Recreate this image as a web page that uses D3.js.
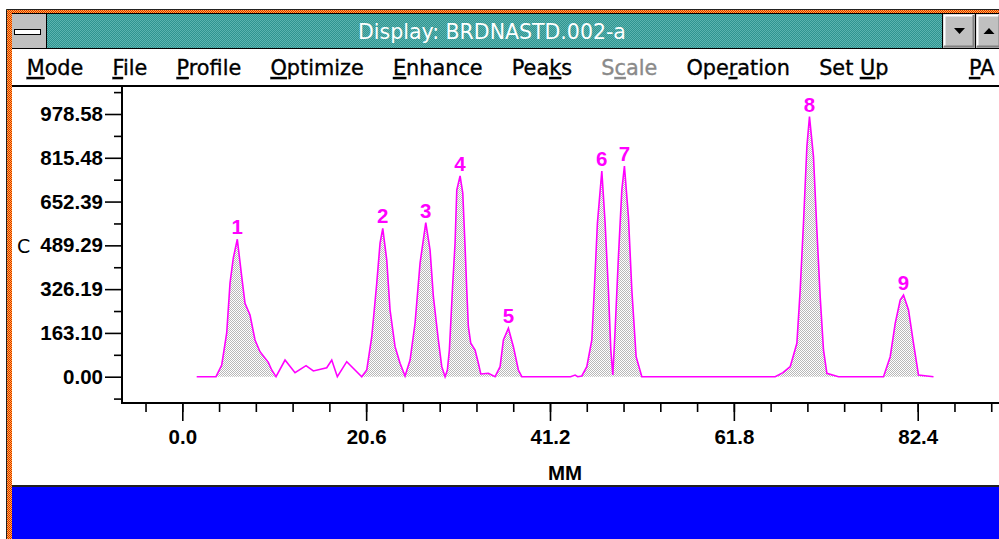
<!DOCTYPE html>
<html><head><meta charset="utf-8">
<script src="https://cdn.jsdelivr.net/npm/d3@7"></script>
<style>html,body{margin:0;padding:0;background:#fff;overflow:hidden}</style>
</head><body>
<svg id="c" width="999" height="539"></svg>
<script>
// ---------- data ----------
const titleText = "Display: BRDNASTD.002-a";
const menuItems = ["Mode","File","Profile","Optimize","Enhance","Peaks","Scale","Operation","Set Up","PA"];
const menuKeys = [0,0,0,0,0,3,1,3,4,0];
const menuEnabled = [1,1,1,1,1,1,0,1,1,1];
const yAxisTitle = "C";
const xAxisTitle = "MM";
const yTickValues = [0, 163.10, 326.19, 489.29, 652.39, 815.48, 978.58];
const yTickLabels = ["0.00","163.10","326.19","489.29","652.39","815.48","978.58"];
const xTickValues = [0, 20.6, 41.2, 61.8, 82.4];
const xTickLabels = ["0.0","20.6","41.2","61.8","82.4"];
const signalMM = [1.614,3.777,4.416,4.976,5.346,5.716,6.164,6.658,7.027,7.588,8.148,8.709,9.639,10.020,10.502,
  11.511,12.631,13.864,14.682,16.184,16.745,17.372,18.426,20.107,
  20.668,21.228,21.788,22.158,22.461,22.909,23.279,23.839,24.400,24.960,
  25.521,26.081,26.641,27.280,27.762,28.132,28.692,29.073,29.443,
  29.701,29.925,30.115,30.306,30.564,30.754,31.124,31.427,31.684,31.875,32.055,32.324,32.806,33.176,33.445,34.297,35.047,
  35.608,35.978,36.538,37.098,37.659,38.040,
  43.500,44.014,44.300,44.765,45.325,45.886,46.255,46.513,47.006,47.376,47.746,48.015,48.239,
  48.497,48.867,49.248,49.539,49.988,50.369,50.851,51.490,
  66.430,67.300,68.111,68.862,69.232,69.602,69.983,70.274,70.723,71.104,71.474,71.844,72.225,73.525,
  78.569,79.320,79.880,80.440,80.810,81.371,81.931,82.491,84.172];
const signalC = [0,0,43.6,162.8,349.1,442.2,511.9,372.5,273.4,229.9,136.7,93.1,53.6,25.0,0,
  62.2,14.9,41.0,21.2,33.5,62.2,0,55.9,0,
  25.0,149.0,348.0,498.1,552.8,434.8,248.5,111.8,49.9,2.6,
  62.2,200.1,423.6,573.7,472.0,298.0,136.7,37.3,0,
  25.0,99.5,223.5,349.1,498.1,695.5,747.7,684.4,484.3,323.0,186.3,124.4,99.5,49.9,10.1,12.7,0,
  37.3,136.7,180.3,111.8,25.0,0,
  0,6,0,2.6,37.3,136.7,386.3,572.6,766.3,572.6,323.0,99.5,6.3,
  174.0,447.0,695.5,784.9,596.1,323.0,74.5,0,
  0,15,37.3,124.4,323.0,572.6,856.8,968.6,819.6,546.5,298.0,99.5,12.7,0,
  0,74.5,198.9,285.7,304.4,248.5,124.4,6.3,0];
const peakLabels = ["1","2","3","4","5","6","7","8","9"];
const peakStart = [3.777,20.107,24.960,29.443,35.047,44.765,48.239,66.430,78.569];
const peakEnd   = [10.502,24.960,29.443,35.047,38.040,48.239,51.490,73.525,84.172];

// ---------- layout ----------
const W = 999, H = 539;
const svg = d3.select("#c");
const defs = svg.append("defs");
function dither(id, bg, fg) {
  const p = defs.append("pattern").attr("id", id).attr("width", 2).attr("height", 2)
    .attr("patternUnits", "userSpaceOnUse");
  p.append("rect").attr("width", 2).attr("height", 2).attr("fill", bg);
  p.append("rect").attr("x", 0).attr("y", 0).attr("width", 1).attr("height", 1).attr("fill", fg);
  p.append("rect").attr("x", 1).attr("y", 1).attr("width", 1).attr("height", 1).attr("fill", fg);
}
dither("frameD", "#ffc040", "#e02000");
dither("titleD", "#2f9490", "#5cb4b0");
dither("fillD", "#ffffff", "#b8b8b8");

svg.append("rect").attr("width", W).attr("height", H).attr("fill", "#fff");

// window frame
svg.append("rect").attr("x", 6).attr("y", 9).attr("width", W - 6).attr("height", H - 9).attr("fill", "url(#frameD)");
svg.append("path").attr("d", `M6.5,${H} V9.5 H${W}`).attr("fill", "none").attr("stroke", "#222").attr("stroke-width", 1);
// title bar
svg.append("rect").attr("x", 12).attr("y", 13).attr("width", W - 12).attr("height", 36).attr("fill", "#000");
svg.append("rect").attr("x", 12).attr("y", 14).attr("width", W - 12).attr("height", 34).attr("fill", "url(#titleD)");
svg.append("text").attr("x", 492).attr("y", 39).attr("text-anchor", "middle")
  .attr("font-family", "DejaVu Sans").attr("font-size", 20.5).attr("fill", "#fff").text(titleText);
// control box
svg.append("rect").attr("x", 12).attr("y", 14).attr("width", 34).attr("height", 34).attr("fill", "#c0c0c0");
svg.append("line").attr("x1", 46.5).attr("x2", 46.5).attr("y1", 14).attr("y2", 48).attr("stroke", "#000");
svg.append("rect").attr("x", 14.5).attr("y", 29.5).attr("width", 26).attr("height", 5).attr("fill", "#fff").attr("stroke", "#000");
// min / max buttons
function button(x, w, up) {
  svg.append("rect").attr("x", x).attr("y", 14).attr("width", w).attr("height", 34).attr("fill", "#c0c0c0");
  svg.append("line").attr("x1", x - 0.5).attr("x2", x - 0.5).attr("y1", 14).attr("y2", 48).attr("stroke", "#000");
  svg.append("path").attr("d", `M${x + 1.5},46 V15.5 H${x + w - 1}`).attr("fill", "none").attr("stroke", "#fff").attr("stroke-width", 2);
  svg.append("path").attr("d", `M${x + 1},46.5 H${x + w - 1.5} V15`).attr("fill", "none").attr("stroke", "#808080").attr("stroke-width", 2);
  const cx = x + w / 2 + 0.5;
  const d = up ? `M${cx - 5.5},34 L${cx},28 L${cx + 5.5},34 Z` : `M${cx - 5.5},28 L${cx},34 L${cx + 5.5},28 Z`;
  svg.append("path").attr("d", d).attr("fill", "#000");
}
button(943, 32, false);
button(976, 25, true);

// menu bar
svg.append("rect").attr("x", 12).attr("y", 49).attr("width", W - 12).attr("height", 36).attr("fill", "#fff");
svg.append("rect").attr("x", 12).attr("y", 85).attr("width", W - 12).attr("height", 2).attr("fill", "#000");
let mx = 26.7;
menuItems.forEach((m, i) => {
  const col = menuEnabled[i] ? "#000" : "#8a8a8a";
  const t = svg.append("text").attr("y", 75).attr("font-family", "DejaVu Sans").attr("font-size", 20.8)
    .attr("fill", col).attr("stroke", col).attr("stroke-width", 0.35);
  const k = menuKeys[i];
  if (k > 0) t.append("tspan").text(m.slice(0, k));
  t.append("tspan").attr("text-decoration", "underline").text(m.slice(k, k + 1));
  if (k + 1 < m.length) t.append("tspan").text(m.slice(k + 1));
  if (i === menuItems.length - 1) { t.attr("x", 969); }
  else { t.attr("x", mx); mx += t.node().getComputedTextLength() + 29.2; }
});

// chart area
svg.append("rect").attr("x", 12).attr("y", 87).attr("width", W - 12).attr("height", 399).attr("fill", "#fff");
svg.append("rect").attr("x", 12).attr("y", 485).attr("width", W - 12).attr("height", 2).attr("fill", "#202020");
svg.append("rect").attr("x", 12).attr("y", 487).attr("width", W - 12).attr("height", H - 487).attr("fill", "#0000ff");

const x = d3.scaleLinear().domain([0, 82.4]).range([182.3, 917.7]);
const y = d3.scaleLinear().domain([0, 978.58]).range([376.7, 114]);
const axisX0 = 122, axisY0 = 403;

const tickFont = "Liberation Sans";
// y axis
const yMinor = d3.range(-81.55, 1100, 163.097);
svg.append("g").attr("transform", `translate(${axisX0},0)`)
  .call(d3.axisLeft(y).tickValues(yMinor).tickSize(8).tickFormat(""))
  .call(g => g.select(".domain").remove());
svg.append("g").attr("transform", `translate(${axisX0},0)`)
  .call(d3.axisLeft(y).tickValues(yTickValues).tickSize(17).tickPadding(2).tickFormat((d, i) => yTickLabels[i]))
  .call(g => g.select(".domain").remove())
  .call(g => g.selectAll("text").attr("font-family", tickFont).attr("font-weight", "bold").attr("font-size", 20.5).attr("fill", "#000"));
// x axis
const xMinor = d3.range(-4.12, 92, 4.12);
svg.append("g").attr("transform", `translate(0,${axisY0})`)
  .call(d3.axisBottom(x).tickValues(xMinor).tickSize(9).tickFormat(""))
  .call(g => g.select(".domain").remove());
svg.append("g").attr("transform", `translate(0,${axisY0})`)
  .call(d3.axisBottom(x).tickValues(xTickValues).tickSize(18).tickPadding(8).tickFormat((d, i) => xTickLabels[i]))
  .call(g => g.select(".domain").remove())
  .call(g => g.selectAll("text").attr("font-family", tickFont).attr("font-weight", "bold").attr("font-size", 20.5).attr("fill", "#000"));
svg.selectAll(".tick line").attr("stroke", "#000").attr("stroke-width", 1.6);
svg.append("path").attr("d", `M${axisX0},87 V${axisY0} H${W}`).attr("fill", "none").attr("stroke", "#000").attr("stroke-width", 2);

svg.append("text").attr("x", 17).attr("y", 253).attr("font-family", "DejaVu Sans").attr("font-size", 19).attr("fill", "#000").text(yAxisTitle);
svg.append("text").attr("x", 565).attr("y", 480).attr("text-anchor", "middle").attr("font-family", tickFont)
  .attr("font-weight", "bold").attr("font-size", 20.5).attr("fill", "#000").text(xAxisTitle);

// signal
const pts = signalMM.map((m, i) => ({ m, c: signalC[i] }));
const area = d3.area().x(d => x(d.m)).y0(y(0)).y1(d => y(d.c));
peakStart.forEach((s, i) => {
  const seg = pts.filter(d => d.m >= s - 1e-6 && d.m <= peakEnd[i] + 1e-6);
  svg.append("path").attr("d", area(seg)).attr("fill", "url(#fillD)");
  const top = seg.reduce((a, b) => (b.c > a.c ? b : a));
  svg.append("text").attr("x", x(top.m)).attr("y", y(top.c) - 5).attr("text-anchor", "middle")
    .attr("font-family", tickFont).attr("font-weight", "bold").attr("font-size", 20.5).attr("fill", "#ff00ff")
    .text(peakLabels[i]);
});
const line = d3.line().x(d => x(d.m)).y(d => y(d.c));
svg.append("path").attr("d", line(pts)).attr("fill", "none").attr("stroke", "#ff00ff").attr("stroke-width", 1.6);
</script>
</body></html>
